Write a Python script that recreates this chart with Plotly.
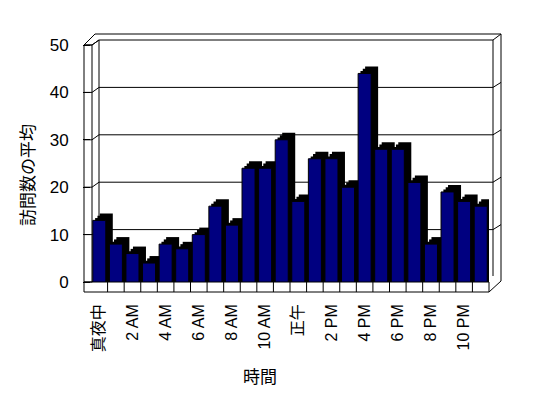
import plotly.graph_objects as go

hours = list(range(24))
visits = [13, 8, 6, 4, 8, 7, 10, 16, 12, 24, 24, 30, 17, 26, 26, 20, 44, 28, 28, 21, 8, 19, 17, 16]
tick_pos = [0, 2, 4, 6, 8, 10, 12, 14, 16, 18, 20, 22]
tick_text = ["真夜中", "2 AM", "4 AM", "6 AM", "8 AM", "10 AM", "正午", "2 PM", "4 PM", "6 PM", "8 PM", "10 PM"]
y_ticks = [0, 10, 20, 30, 40, 50]

OFF = 8  # page body margin
W, H = 548 - OFF, 398 - OFF
# plot area in screen pixels
SL, SR, ST, SB = 91, 489, 45, 282
K = (SB - ST) / 50.0  # px per unit
CAT = (SR - SL) / 24.0  # px per category

def px(x):
    return (x - SL) / (SR - SL)

def py(y):
    return (SB - y) / (SB - ST)

FONT = "Liberation Sans, Noto Sans CJK JP, sans-serif"

shapes = []
def line(x0, y0, x1, y1, layer="below"):
    shapes.append(dict(type="line", xref="paper", yref="paper",
                       x0=px(x0), y0=py(y0), x1=px(x1), y1=py(y1),
                       line=dict(color="black", width=1), layer=layer))

# left wall
line(84, 45, 84, 292)
line(92, 45, 92, 282)
line(84, 45, 92, 45)
line(84, 45, 95, 34)
line(92, 45, 99, 40)
# back wall
line(95, 34, 501, 34)
line(99, 40, 493, 40)
line(99, 40, 99, 276)
line(493, 40, 493, 276)
line(493, 40, 501, 34)
line(501, 34, 501, 281)
line(501, 281, 489, 292)
# floor
line(84, 282, 489, 282)
line(84, 292, 489, 292)
line(489, 282, 489, 292)
# value ticks and back-wall gridlines
for v in y_ticks:
    yf = SB - v * K
    line(84, yf, 92, yf)
    line(92, yf, 99, yf - 5)
    if 0 < v < 50:
        line(99, yf - 5, 493, yf - 5)
        line(493, yf - 5, 501, yf - 10)

# floor category dividers
for h in hours[:-1]:
    shapes.append(dict(type="line", xref="x", yref="paper",
                       x0=h + 0.5, x1=h + 0.5, y0=py(282), y1=py(292),
                       line=dict(color="black", width=1), layer="below"))

bw = 0.785
DEPTH_PX = 7

fig = go.Figure()
# black depth (side + top), drawn as a few steps to approximate the slanted top
for step in (1, 2, 3):
    d = DEPTH_PX * step / 3.0
    fig.add_trace(go.Bar(x=hours, y=[v + d / K for v in visits], width=bw,
                         offset=-bw / 2 + d / CAT,
                         marker=dict(color="black", line=dict(width=0)),
                         hoverinfo="skip", showlegend=False))
fig.add_trace(go.Bar(x=hours, y=visits, width=bw, offset=-bw / 2,
                     marker=dict(color="#000080", line=dict(color="black", width=1)),
                     showlegend=False, name="訪問数の平均"))

fig.update_layout(
    width=W, height=H, barmode="overlay",
    margin=dict(l=SL - OFF, r=W - (SR - OFF), t=ST - OFF, b=H - (SB - OFF), pad=0,
                autoexpand=False),
    paper_bgcolor="white", plot_bgcolor="rgba(0,0,0,0)",
    font=dict(family=FONT, size=16, color="black"),
    shapes=shapes,
    xaxis=dict(range=[-0.5, 23.5], tickmode="array", tickvals=tick_pos, ticktext=tick_text,
               tickangle=-90, showgrid=False, zeroline=False, showline=False, ticks="",
               ticklabelstandoff=18, tickfont=dict(size=16, color="black"), automargin=False,
               ticklabeloverflow="allow"),
    yaxis=dict(range=[0, 50], tickmode="array", tickvals=y_ticks, showgrid=False,
               zeroline=False, showline=False, ticks="outside", ticklen=7,
               tickcolor="black", ticklabelstandoff=11, tickfont=dict(size=17),
               automargin=False),
    annotations=[
        dict(text="訪問数の平均", xref="paper", yref="paper", x=px(28), y=py(175),
             showarrow=False, textangle=-90, font=dict(size=17),
             xanchor="center", yanchor="middle"),
        dict(text="時間", xref="paper", yref="paper", x=px(260), y=py(377),
             showarrow=False, font=dict(size=17), xanchor="center", yanchor="middle"),
    ],
)

fig.write_html("out.html")
